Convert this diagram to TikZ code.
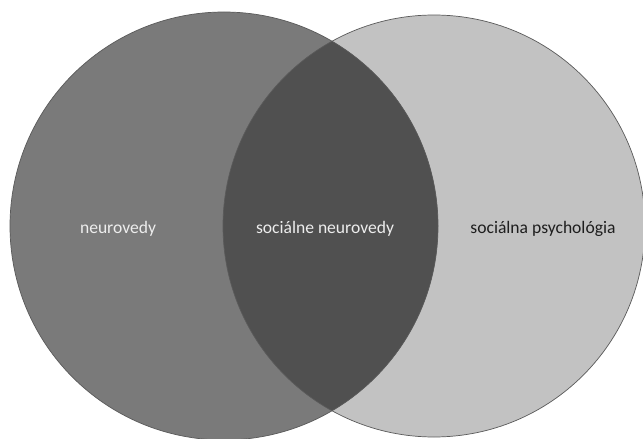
\documentclass[tikz,border=0pt]{standalone}
\usepackage{fontspec}
\setmainfont{Carlito}
\definecolor{neurogray}{HTML}{7A7A7A}
\definecolor{psychgray}{HTML}{C2C2C2}
\definecolor{sharedgray}{HTML}{505050}
\definecolor{rimgray}{HTML}{5A5A5A}
\definecolor{inkdark}{HTML}{1E1E1E}

\begin{document}
\begin{tikzpicture}[
  x=0.025cm, y=-0.025cm,
  line join=round, line cap=round,
  rim/.style={line width=0.5pt, draw=rimgray},
  lbl/.style={font=\fontsize{12.5}{14}\selectfont, inner sep=0pt},
]

% ── page, in pixels of the reference ──────────────────────────────────────
\useasboundingbox[fill=white] (0,0) rectangle (643,439);

% ── the two fields ────────────────────────────────────────────────────────
\fill[psychgray] (434,226) circle (211);
\fill[neurogray] (224,226) circle (214);

% ── where they meet ───────────────────────────────────────────────────────
\begin{scope}
  \clip (224,226) circle (214);
  \fill[sharedgray] (434,226) circle (211);
\end{scope}

\draw[rim] (224,226) circle (214);
\draw[rim] (434,226) circle (211);

% ── labels ────────────────────────────────────────────────────────────────
\node[lbl, white!93!black] (neuro) at (118,229) {neurovedy};
\node[lbl, white!93!black] (shared) at (325,229) {sociálne neurovedy};
\node[lbl, inkdark] (psych) at (543,229) {sociálna psychológia};

\end{tikzpicture}
\end{document}
